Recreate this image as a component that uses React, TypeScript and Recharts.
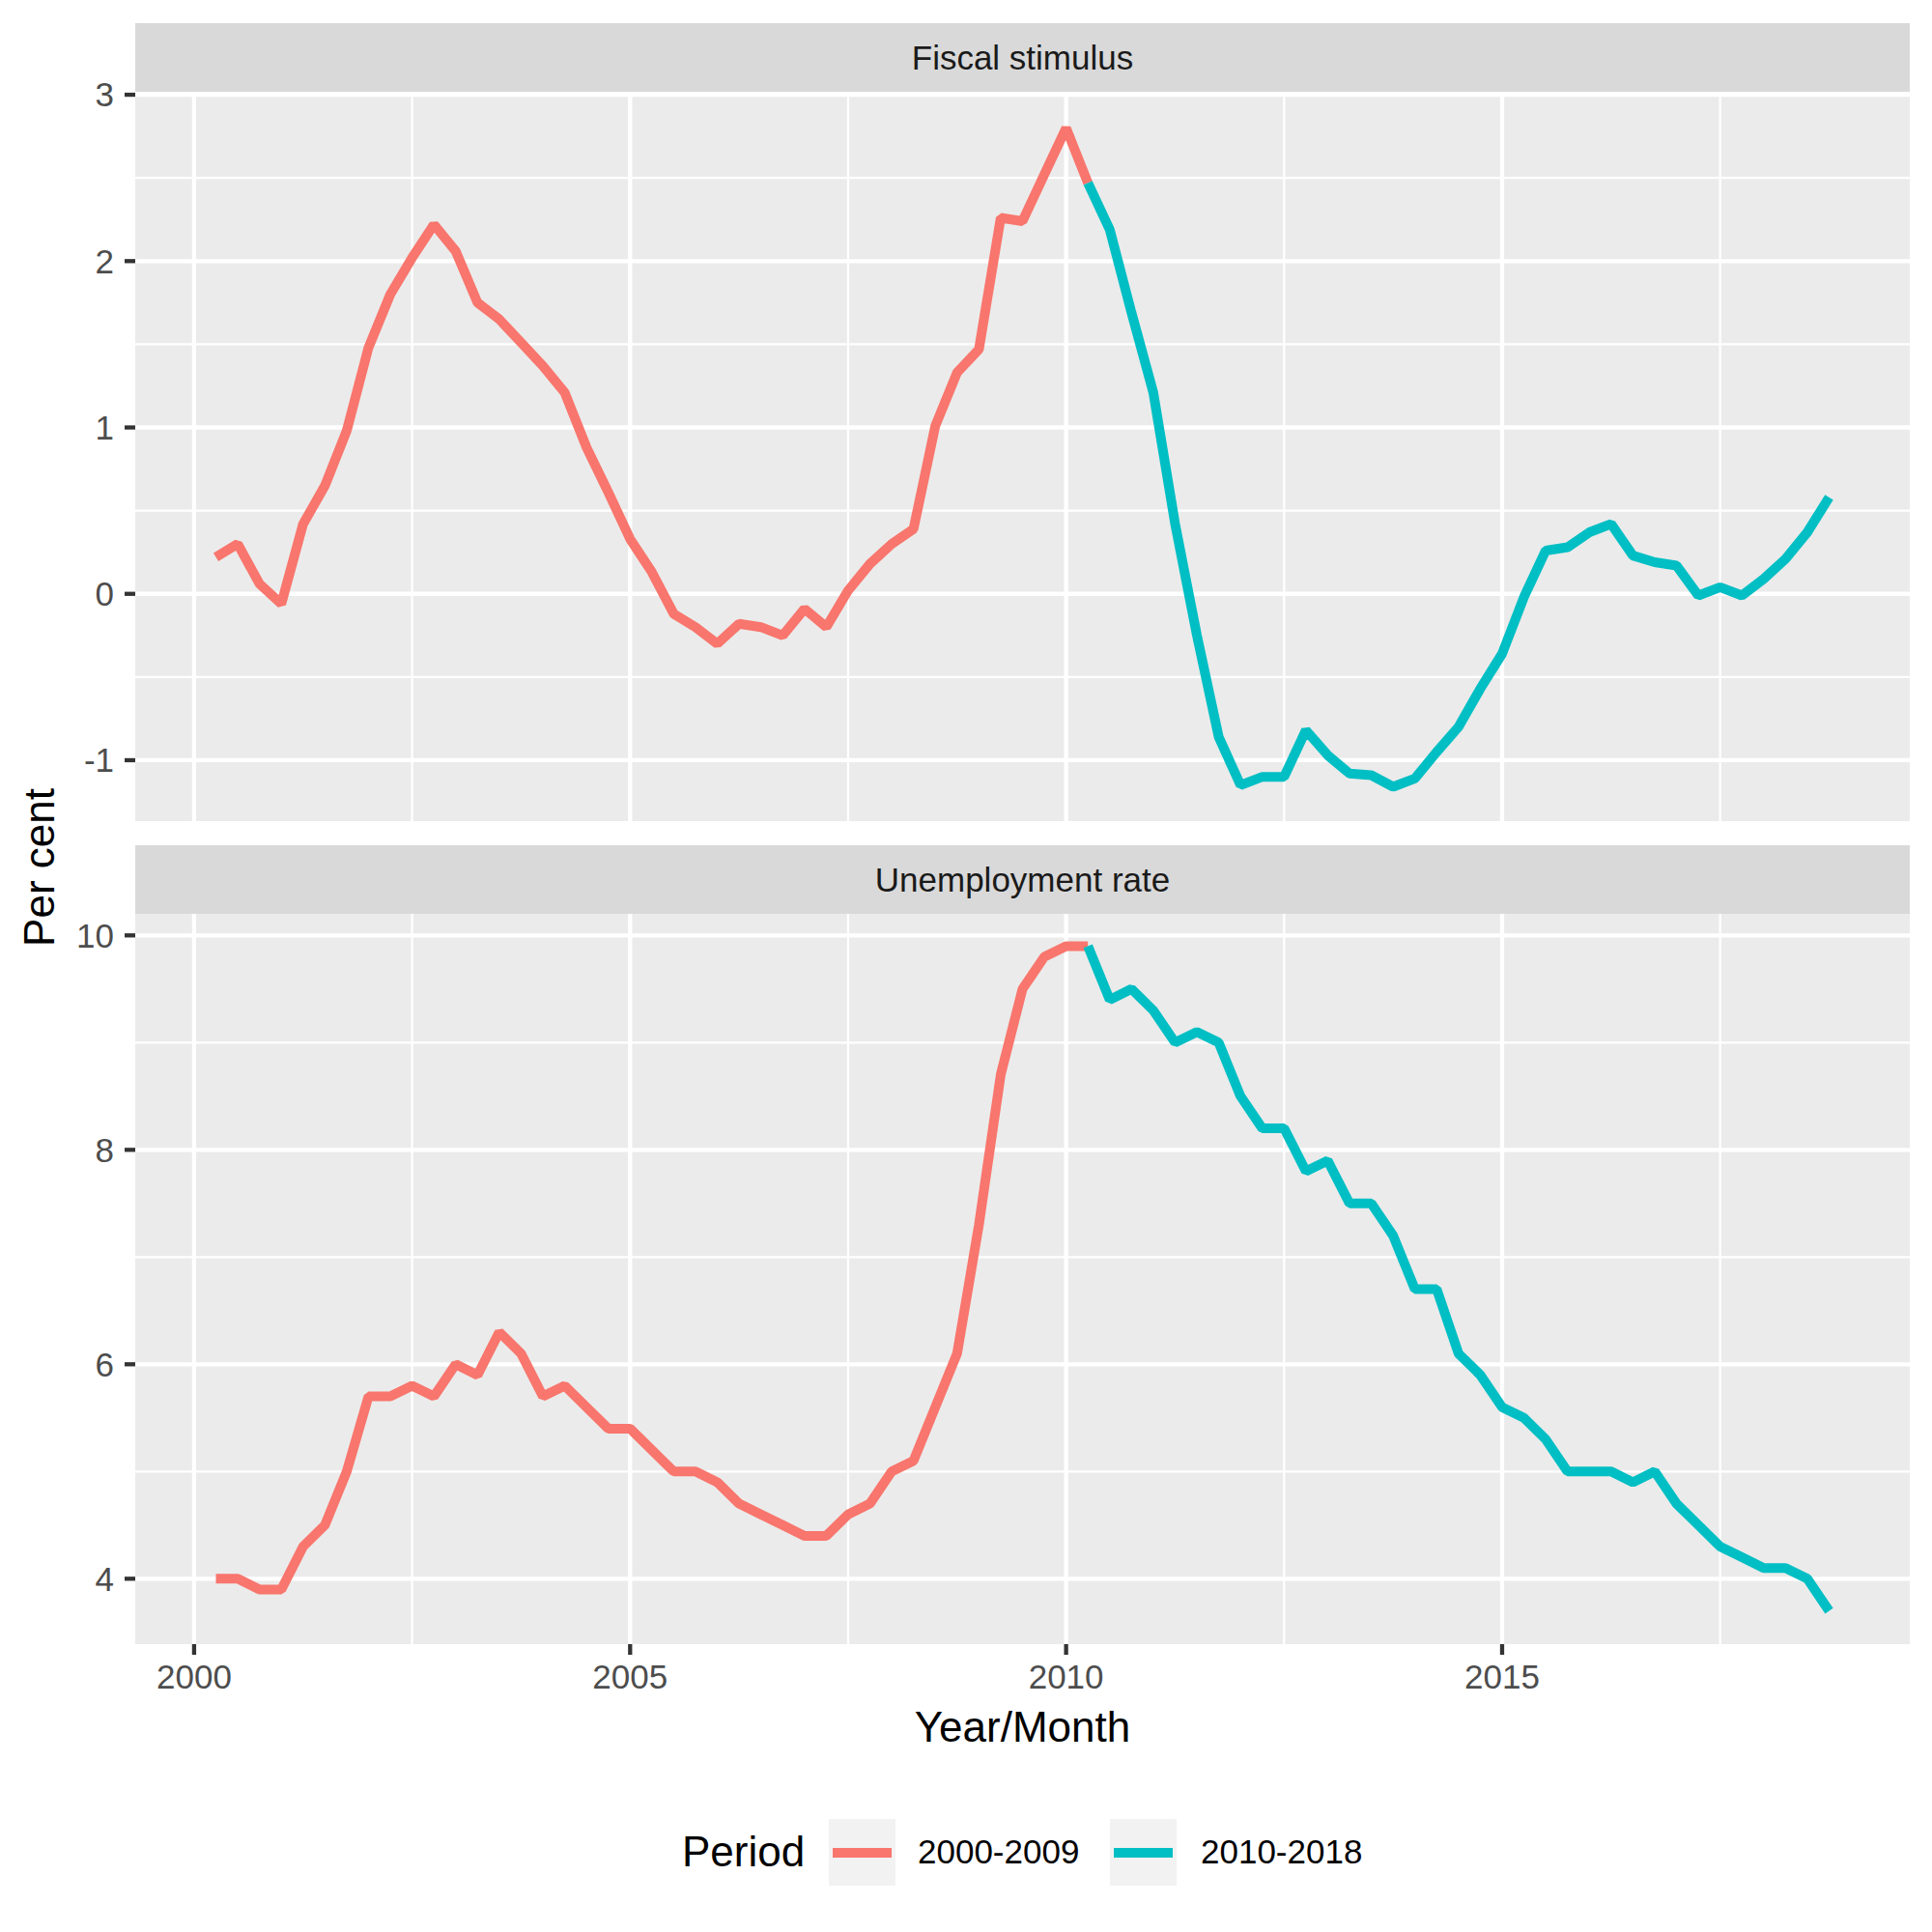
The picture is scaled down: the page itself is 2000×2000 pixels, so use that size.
import { CartesianGrid, Line, LineChart, XAxis, YAxis } from "recharts";

const FONT = '"Liberation Sans", Arial, Helvetica, sans-serif';
const RED = "#F8766D";
const CYAN = "#00BFC4";

// quarter positions (year + quarter/4)
const quarterEnd = [
  2000.25, 2000.5, 2000.75, 2001, 2001.25, 2001.5, 2001.75, 2002, 2002.25, 2002.5,
  2002.75, 2003, 2003.25, 2003.5, 2003.75, 2004, 2004.25, 2004.5, 2004.75, 2005,
  2005.25, 2005.5, 2005.75, 2006, 2006.25, 2006.5, 2006.75, 2007, 2007.25, 2007.5,
  2007.75, 2008, 2008.25, 2008.5, 2008.75, 2009, 2009.25, 2009.5, 2009.75, 2010,
  2010.25, 2010.5, 2010.75, 2011, 2011.25, 2011.5, 2011.75, 2012, 2012.25, 2012.5,
  2012.75, 2013, 2013.25, 2013.5, 2013.75, 2014, 2014.25, 2014.5, 2014.75, 2015,
  2015.25, 2015.5, 2015.75, 2016, 2016.25, 2016.5, 2016.75, 2017, 2017.25, 2017.5,
  2017.75, 2018, 2018.25, 2018.5, 2018.75,
];

const fiscal2000s = [
  0.22, 0.3, 0.06, -0.06, 0.42, 0.65, 0.98, 1.48, 1.8, 2.02,
  2.22, 2.06, 1.75, 1.65, 1.51, 1.37, 1.21, 0.88, 0.61, 0.33,
  0.13, -0.12, -0.2, -0.3, -0.18, -0.2, -0.25, -0.09, -0.2, 0.02,
  0.18, 0.3, 0.39, 1.01, 1.33, 1.47, 2.26, 2.24, 2.52, 2.8,
];
const fiscal2010s = [
  2.47, 2.19, 1.69, 1.21, 0.42, -0.25, -0.86, -1.15, -1.1, -1.1,
  -0.82, -0.97, -1.08, -1.09, -1.16, -1.11, -0.95, -0.8, -0.57, -0.36,
  -0.02, 0.26, 0.28, 0.37, 0.42, 0.23, 0.19, 0.17, -0.01, 0.04,
  -0.01, 0.09, 0.21, 0.37, 0.58,
];

const unemp2000s = [
  4.0, 4.0, 3.9, 3.9, 4.3, 4.5, 5.0, 5.7, 5.7, 5.8,
  5.7, 6.0, 5.9, 6.3, 6.1, 5.7, 5.8, 5.6, 5.4, 5.4,
  5.2, 5.0, 5.0, 4.9, 4.7, 4.6, 4.5, 4.4, 4.4, 4.6,
  4.7, 5.0, 5.1, 5.6, 6.1, 7.3, 8.7, 9.5, 9.8, 9.9,
];
const unemp2010s = [
  9.9, 9.4, 9.5, 9.3, 9.0, 9.1, 9.0, 8.5, 8.2, 8.2,
  7.8, 7.9, 7.5, 7.5, 7.2, 6.7, 6.7, 6.1, 5.9, 5.6,
  5.5, 5.3, 5.0, 5.0, 5.0, 4.9, 5.0, 4.7, 4.5, 4.3,
  4.2, 4.1, 4.1, 4.0, 3.7,
];

const yearTicks = [2000, 2005, 2010, 2015];
const yearMinor = [2002.5, 2007.5, 2012.5, 2017.5];
const xDomain = [1999.325, 2019.675];

const fiscalTicks = [-1, 0, 1, 2, 3];
const fiscalMinor = [-0.5, 0.5, 1.5, 2.5];
const unempTicks = [4, 6, 8, 10];
const unempMinor = [5, 7, 9];

// the segment leaving the last 2000s point is drawn in the 2000s colour (ggplot group=1)
function buildRows(early: number[], late: number[]) {
  const all = [...early, ...late];
  return quarterEnd.map((x, i) => ({
    x,
    early: i <= early.length ? all[i] : null,
    late: i >= early.length ? all[i] : null,
  }));
}

const tickText = { fill: "#4D4D4D", fontSize: 35, fontFamily: FONT };
const tickLine = { stroke: "#333333", strokeWidth: 4.3 };

function Panel(props: {
  top: number;
  height: number;
  marginTop: number;
  marginBottom: number;
  rows: any[];
  domain: number[];
  ticks: number[];
  minor: number[];
  showX: boolean;
}) {
  const { top, height, marginTop, marginBottom, rows, domain, ticks, minor, showX } = props;
  return (
    <div style={{ position: "absolute", left: 0, top }}>
      <LineChart
        width={2000}
        height={height}
        data={rows}
        margin={{ top: marginTop, right: 23, bottom: marginBottom, left: 0 }}
      >
        <CartesianGrid
          fill="#EBEBEB"
          stroke="#FFFFFF"
          strokeWidth={2.2}
          horizontalValues={minor}
          verticalValues={yearMinor}
        />
        <CartesianGrid stroke="#FFFFFF" strokeWidth={4.3} horizontalValues={ticks} verticalValues={yearTicks} />
        <XAxis
          dataKey="x"
          type="number"
          domain={xDomain}
          ticks={yearTicks}
          interval={0}
          allowDataOverflow
          hide={!showX}
          height={60}
          tickSize={11}
          tickMargin={10}
          axisLine={false}
          tickLine={tickLine}
          tick={tickText}
        />
        <YAxis
          type="number"
          domain={domain}
          ticks={ticks}
          interval={0}
          allowDataOverflow
          width={140}
          tickSize={11}
          tickMargin={11}
          axisLine={false}
          tickLine={tickLine}
          tick={tickText}
        />
        <Line
          type="linear"
          dataKey="early"
          stroke={RED}
          strokeWidth={10}
          strokeLinejoin="bevel"
          dot={false}
          activeDot={false}
          isAnimationActive={false}
        />
        <Line
          type="linear"
          dataKey="late"
          stroke={CYAN}
          strokeWidth={10}
          strokeLinejoin="bevel"
          dot={false}
          activeDot={false}
          isAnimationActive={false}
        />
      </LineChart>
    </div>
  );
}

function Strip({ top, label }: { top: number; label: string }) {
  return (
    <div
      style={{
        position: "absolute",
        left: 140,
        top,
        width: 1837,
        height: 71,
        background: "#D9D9D9",
        color: "#1A1A1A",
        fontSize: 35,
        lineHeight: "71px",
        textAlign: "center",
      }}
    >
      {label}
    </div>
  );
}

function LegendKey({ left, color, label, labelLeft }: { left: number; color: string; label: string; labelLeft: number }) {
  return (
    <>
      <div style={{ position: "absolute", left, top: 1883, width: 69, height: 69, background: "#F2F2F2" }}>
        <div style={{ position: "absolute", left: 4, top: 29.5, width: 61, height: 10, background: color }} />
      </div>
      <div style={{ position: "absolute", left: labelLeft, top: 1892, fontSize: 35, lineHeight: "50px", color: "#000" }}>
        {label}
      </div>
    </>
  );
}

export default function App() {
  return (
    <div
      style={{
        position: "absolute",
        left: 0,
        top: 0,
        width: 2000,
        height: 2000,
        background: "#FFFFFF",
        fontFamily: FONT,
        overflow: "hidden",
      }}
    >
      <Panel
        top={0}
        height={870}
        marginTop={96}
        marginBottom={20}
        rows={buildRows(fiscal2000s, fiscal2010s)}
        domain={[-1.366, 3.012]}
        ticks={fiscalTicks}
        minor={fiscalMinor}
        showX={false}
      />
      <Panel
        top={870}
        height={900}
        marginTop={75}
        marginBottom={8}
        rows={buildRows(unemp2000s, unemp2010s)}
        domain={[3.39, 10.21]}
        ticks={unempTicks}
        minor={unempMinor}
        showX={true}
      />
      <Strip top={24} label="Fiscal stimulus" />
      <Strip top={875} label="Unemployment rate" />

      <div
        style={{
          position: "absolute",
          left: 140,
          width: 1837,
          top: 1762,
          fontSize: 44,
          lineHeight: "52px",
          textAlign: "center",
          color: "#000",
        }}
      >
        Year/Month
      </div>
      <div
        style={{
          position: "absolute",
          left: 41 - 200,
          top: 898 - 26,
          width: 400,
          fontSize: 44,
          lineHeight: "52px",
          textAlign: "center",
          color: "#000",
          transform: "rotate(-90deg)",
        }}
      >
        Per cent
      </div>

      <div style={{ position: "absolute", left: 706, top: 1890, fontSize: 44, lineHeight: "54px", color: "#000" }}>
        Period
      </div>
      <LegendKey left={858} color={RED} label="2000-2009" labelLeft={950} />
      <LegendKey left={1149} color={CYAN} label="2010-2018" labelLeft={1243} />
    </div>
  );
}
